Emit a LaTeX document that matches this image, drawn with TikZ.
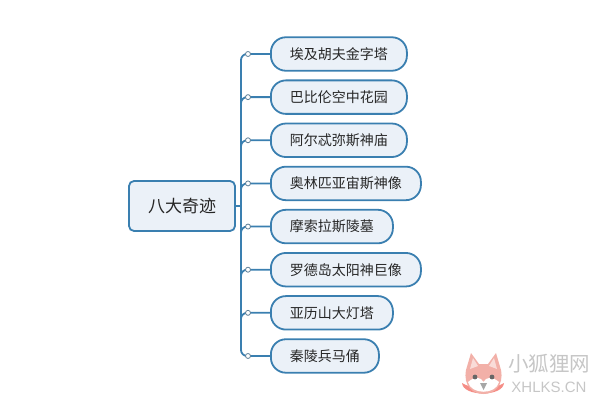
\documentclass[tikz,border=0pt]{standalone}
\usepackage{fontspec}
\setmainfont{Noto Sans CJK SC}
\newfontfamily\markfont{Liberation Sans}
\usepackage{tikz}
\usetikzlibrary{positioning}
\definecolor{linkblue}{HTML}{3A7FB0}
\definecolor{boxblue}{HTML}{EBF1F8}
\definecolor{foxpink}{HTML}{F2B0A8}
\definecolor{markgray}{HTML}{C6C6C6}

\begin{document}
\begin{tikzpicture}[x=1pt,y=1pt,
        topic/.style={draw=linkblue,line width=1.8pt,fill=boxblue,rounded corners=5pt,inner xsep=19pt,minimum height=50pt,text=black!85,font=\fontsize{17}{17}\selectfont},
        wonder/.style={draw=linkblue,line width=1.8pt,fill=boxblue,rounded corners=15pt,inner xsep=19pt,minimum height=33.5pt,text=black!85,font=\fontsize{14}{14}\selectfont},
        knob/.style={circle,draw=linkblue!50!gray,fill=white,line width=.8pt,inner sep=0pt,minimum size=5pt},
        link/.style={draw=linkblue,line width=1.8pt}]
            \useasboundingbox (0,0) rectangle (600,-401);
            \node[topic] (root) at (182,-206) {八大奇迹};

            \node[wonder,anchor=west] (w1) at (270,-54) {埃及胡夫金字塔};
            \node[wonder] (w2) [below = 7.84pt of w1.south west, anchor=north west] {巴比伦空中花园};
            \node[wonder] (w3) [below = 7.84pt of w2.south west, anchor=north west] {阿尔忒弥斯神庙};
            \node[wonder] (w4) [below = 7.84pt of w3.south west, anchor=north west] {奥林匹亚宙斯神像};
            \node[wonder] (w5) [below = 7.84pt of w4.south west, anchor=north west] {摩索拉斯陵墓};
            \node[wonder] (w6) [below = 7.84pt of w5.south west, anchor=north west] {罗德岛太阳神巨像};
            \node[wonder] (w7) [below = 7.84pt of w6.south west, anchor=north west] {亚历山大灯塔};
            \node[wonder] (w8) [below = 7.84pt of w7.south west, anchor=north west] {秦陵兵马俑};

            \coordinate (trunk) at (241,-206);
            \draw[link] (root) -- (trunk);
            \draw[link,rounded corners=6pt] (w1.west) -- (trunk |- w1.west) -- (trunk |- w8.west) -- (w8.west);
            \foreach \i in {2,...,7} {
                \draw[link,rounded corners=6pt] (w\i.west) -- (trunk |- w\i.west) -- ++(0,-8);
            }
            \foreach \i in {1,...,8} {
                \node[knob] (o\i) at ([xshift=-22pt]w\i.west) {};
            }

            % watermark
            \fill[foxpink!80!red] (462,-383) .. controls (463,-397) and (503,-397) .. (504,-383) .. controls (496,-389) and (470,-389) .. (462,-383) -- cycle;
            \fill[foxpink] (471,-353) -- (466,-370) .. controls (463,-386) and (473,-394) .. (483.5,-394) .. controls (494,-394) and (504,-386) .. (501,-370) -- (496,-353) -- (488,-364) -- (479,-364) -- cycle;
            \fill[foxpink!45!white] (473,-358) -- (470,-369) -- (478,-366) -- cycle (494,-358) -- (497,-369) -- (489,-366) -- cycle;
            \fill[white] (468,-382) .. controls (475,-376) and (481,-377) .. (483.5,-382) .. controls (486,-377) and (492,-376) .. (499,-382) .. controls (496,-395) and (471,-395) .. (468,-382) -- cycle;
            \fill[black!60] (475,-377) circle (2.4pt) (492,-377) circle (2.4pt);
            \fill[gray!70] (480,-383) -- (487,-383) -- (483.5,-390) -- cycle;
            \node[text=markgray,inner sep=0pt,font=\fontsize{20.5}{20.5}\selectfont] (brand) at (549,-364) {小狐狸网};
            \node[text=markgray,inner sep=0pt,font=\markfont\fontsize{15}{15}\selectfont] (site) [below = 8pt of brand] {XHLKS.CN};
        \end{tikzpicture}
\end{document}
